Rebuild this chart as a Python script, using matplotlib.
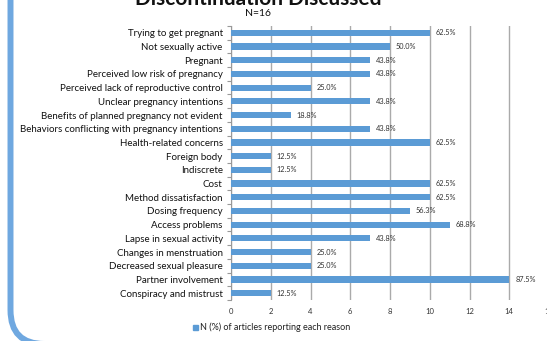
import matplotlib.pyplot as plt
import numpy as np
from matplotlib.patches import FancyBboxPatch

# Data
reasons = ['Trying to get pregnant', 'Not sexually active', 'Pregnant',
           'Perceived low risk of pregnancy', 'Perceived lack of reproductive control',
           'Unclear pregnancy intentions', 'Benefits of planned pregnancy not evident',
           'Behaviors conflicting with pregnancy intentions', 'Health-related concerns',
           'Foreign body', 'Indiscrete', 'Cost', 'Method dissatisfaction',
           'Dosing frequency', 'Access problems', 'Lapse in sexual activity',
           'Changes in menstruation', 'Decreased sexual pleasure',
           'Partner involvement', 'Conspiracy and mistrust']
counts = [10, 8, 7, 7, 4, 7, 3, 7, 10, 2, 2, 10, 10, 9, 11, 7, 4, 4, 14, 2]
pct_labels = ['62.5%', '50.0%', '43.8%', '43.8%', '25.0%', '43.8%', '18.8%', '43.8%',
              '62.5%', '12.5%', '12.5%', '62.5%', '62.5%', '56.3%', '68.8%', '43.8%',
              '25.0%', '25.0%', '87.5%', '12.5%']
xticks = [0, 2, 4, 6, 8, 10, 12, 14, 16]

plt.rcParams['font.family'] = ['Lato', 'DejaVu Sans']

bar_color = '#5b9bd5'
border_color = '#6fa8e0'

fig = plt.figure(figsize=(5.47, 3.41), dpi=100)
ax = fig.add_axes([231 / 547, 1 - 300 / 341, 318 / 547, 274 / 341])

y = np.arange(len(reasons))
ax.barh(y, counts, height=0.45, color=bar_color, zorder=3)
for yi, c, lab in zip(y, counts, pct_labels):
    ax.text(c + 0.3, yi, lab, va='center', ha='left', fontsize=5.3, color='#333333')

ax.set_xlim(0, 16)
ax.set_ylim(len(reasons) - 0.5, -0.5)
ax.set_xticks(xticks)
ax.set_xticklabels([str(t) for t in xticks], fontsize=5.5, color='#333333')
ax.set_yticks(y)
ax.set_yticklabels(reasons, fontsize=7, color='#111111')
ax.set_yticks(np.arange(-0.5, len(reasons), 1), minor=True)
ax.tick_params(axis='y', which='major', length=0, pad=6)
ax.tick_params(axis='y', which='minor', length=3, color='#999999', width=0.8)
ax.tick_params(axis='x', length=0, pad=6)
ax.xaxis.grid(True, color='#aaaaaa', linewidth=1)
ax.set_axisbelow(True)
for s in ['top', 'right', 'bottom']:
    ax.spines[s].set_visible(False)
ax.spines['left'].set_color('#999999')
ax.spines['left'].set_linewidth(0.8)

# Title (cropped at top) and subtitle
fig.text(258 / 547, 1 + 1 / 341, 'Discontinuation Discussed', ha='center', va='center',
         fontsize=15, fontweight='bold', color='#111111')
fig.text(258 / 547, 1 - 14 / 341, 'N=16', ha='center', va='center', fontsize=7.5, color='#111111')

# Legend
fig.patches.append(plt.Rectangle((193 / 547, 1 - 330 / 341), 5 / 547, 5 / 341,
                                 transform=fig.transFigure, color=bar_color))
fig.text(200 / 547, 1 - 327.5 / 341, 'N (%) of articles reporting each reason',
         ha='left', va='center', fontsize=6.5, color='#222222')

# Slide border (rounded, bottom-left, bottom edge just below the picture)
fig.patches.append(FancyBboxPatch((10.5 / 547, 1 - 344 / 341), 700 / 547, 400 / 341,
                                  boxstyle='round,pad=0,rounding_size=0.062',
                                  transform=fig.transFigure, fill=False,
                                  edgecolor=border_color, linewidth=4.3,
                                  mutation_aspect=547 / 341))

fig.savefig('out.png', dpi=100)
